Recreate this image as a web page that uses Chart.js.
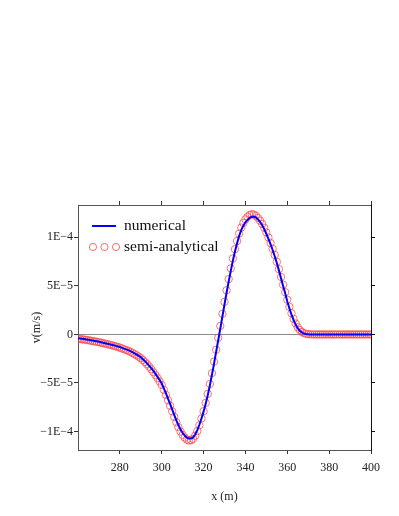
<!DOCTYPE html>
<html>
<head>
<meta charset="utf-8">
<script src="https://cdn.jsdelivr.net/npm/chart.js@4.4.1/dist/chart.umd.min.js"></script>
<style>
body{margin:0;background:#fff;}
</style>
</head>
<body>
<canvas id="chart_v" width="399" height="516"></canvas>
<script>
// x positions (m), one sample per metre
var x_values=[260,261,262,263,264,265,266,267,268,269,270,271,272,273,274,275,276,277,278,279,
 280,281,282,283,284,285,286,287,288,289,290,291,292,293,294,295,296,297,298,299,
 300,301,302,303,304,305,306,307,308,309,310,311,312,313,314,315,316,317,318,319,
 320,321,322,323,324,325,326,327,328,329,330,331,332,333,334,335,336,337,338,339,
 340,341,342,343,344,345,346,347,348,349,350,351,352,353,354,355,356,357,358,359,
 360,361,362,363,364,365,366,367,368,369,370,371,372,373,374,375,376,377,378,379,
 380,381,382,383,384,385,386,387,388,389,390,391,392,393,394,395,396,397,398,399,400];

// v in units of 1E-5 m/s
var numerical=[-0.40,-0.42,-0.45,-0.48,-0.51,-0.55,-0.59,-0.63,-0.67,-0.71,-0.75,
 -0.80,-0.85,-0.90,-0.95,-1.00,-1.06,-1.12,-1.18,-1.24,-1.30,
 -1.38,-1.46,-1.54,-1.62,-1.72,-1.83,-1.95,-2.08,-2.21,-2.35,
 -2.55,-2.75,-2.98,-3.22,-3.48,-3.76,-4.06,-4.38,-4.70,-5.05,
 -5.55,-6.05,-6.60,-7.15,-7.72,-8.30,-8.85,-9.35,-9.80,-10.15,
 -10.42,-10.62,-10.72,-10.72,-10.60,-10.30,-9.85,-9.30,-8.65,-7.95,
 -7.15,-6.25,-5.25,-4.15,-3.00,-1.80,-0.60,0.60,1.85,3.10,
 4.30,5.45,6.55,7.60,8.55,9.40,10.15,10.75,11.20,11.55,
 11.80,12.00,12.12,12.15,12.05,11.85,11.60,11.25,10.85,10.35,
 9.85,9.30,8.70,8.05,7.35,6.60,5.80,5.00,4.25,3.40,
 2.70,2.05,1.50,1.02,0.65,0.38,0.20,0.09,0.04,0.01,
 0,0,0,0,0,0,0,0,0,0,0,0,0,0,0,0,0,0,0,0,0,0,0,0,0,0,0,0,0,0];

var semi_analytical=[-0.45,-0.47,-0.50,-0.53,-0.56,-0.60,-0.64,-0.68,-0.72,-0.76,-0.80,
 -0.85,-0.90,-0.95,-1.00,-1.05,-1.11,-1.17,-1.23,-1.29,-1.36,
 -1.44,-1.52,-1.60,-1.69,-1.79,-1.90,-2.02,-2.15,-2.29,-2.44,
 -2.63,-2.84,-3.07,-3.31,-3.58,-3.87,-4.18,-4.50,-4.84,-5.20,
 -5.70,-6.22,-6.78,-7.35,-7.92,-8.50,-9.05,-9.55,-10.00,-10.35,
 -10.62,-10.82,-10.92,-10.90,-10.75,-10.42,-9.95,-9.35,-8.65,-7.90,
 -7.05,-6.12,-5.10,-3.98,-2.80,-1.58,-0.35,0.88,2.12,3.35,
 4.55,5.70,6.80,7.82,8.78,9.62,10.38,11.00,11.48,11.85,
 12.12,12.30,12.38,12.35,12.22,12.00,11.72,11.38,10.98,10.50,
 9.98,9.42,8.82,8.18,7.48,6.72,5.92,5.12,4.35,3.58,
 2.85,2.18,1.60,1.12,0.74,0.45,0.25,0.13,0.06,0.03,
 0.01,0,0,0,0,0,0,0,0,0,0,0,0,0,0,0,0,0,0,0,0,0,0,0,0,0,0,0,0,0];

var unit=1e-5;
var x_ticks=[280,300,320,340,360,380,400];
var y_ticks=[-1e-4,-5e-5,0,5e-5,1e-4];
var y_tick_labels=["\u22121E\u22124","\u22125E\u22125","0","5E\u22125","1E\u22124"];
var series_names=["numerical","semi-analytical"];

var serif='"Liberation Serif","Times New Roman",serif';

function points(vals)
{
 var out=[];
 for(var i=0;i<x_values.length;i++){
  out.push({x:x_values[i],y:vals[i]*unit});
 }
 return out;
}

// legend drawn inside the plot, top left
var inner_legend={
 id:'inner_legend',
 afterDatasetsDraw:function(chart){
  var c=chart.ctx, a=chart.chartArea;
  var lx=a.left+14, y1=a.top+21, y2=a.top+42;
  c.save();
  c.strokeStyle='#0000ff';
  c.lineWidth=2;
  c.beginPath();
  c.moveTo(lx,y1);
  c.lineTo(lx+24,y1);
  c.stroke();
  c.strokeStyle='rgba(255,70,70,0.8)';
  c.lineWidth=1;
  for(var k=0;k<3;k++){
   c.beginPath();
   c.arc(lx+1+k*11.5,y2,3.6,0,Math.PI*2);
   c.stroke();
  }
  c.fillStyle='#111';
  c.font='15.5px '+serif;
  c.textBaseline='middle';
  c.fillText(series_names[0],lx+32,y1);
  c.fillText(series_names[1],lx+32,y2);
  c.restore();
 }
};

function draw_chart()
{
 var chartid=document.getElementById("chart_v");
 var chart_obj=new Chart(chartid,{
  type:'line',
  data:{
   datasets:[{
     label:series_names[0],
     data:points(numerical),
     xAxisID:'x',
     yAxisID:'y',
     borderColor:'#0000ff',
     borderWidth:2,
     pointRadius:0,
     tension:0,
     fill:false
    },{
     label:series_names[1],
     data:points(semi_analytical),
     xAxisID:'x',
     yAxisID:'y',
     showLine:false,
     pointStyle:'circle',
     pointRadius:3.7,
     pointBorderWidth:1,
     pointBorderColor:'rgba(255,70,70,0.75)',
     pointBackgroundColor:'rgba(0,0,0,0)',
     clip:0
    }]
  },
  plugins:[inner_legend],
  options:{
   responsive:false,
   devicePixelRatio:1,
   animation:false,
   layout:{padding:0},
   plugins:{legend:{display:false},tooltip:{enabled:false}},
   scales:{
    x:{
     type:'linear',position:'bottom',min:260,max:400,
     afterBuildTicks:function(s){s.ticks=x_ticks.map(function(v){return {value:v};});},
     afterFit:function(s){s.height=66;},
     grid:{drawOnChartArea:false,tickLength:4,tickColor:'#333'},
     border:{color:'#555',width:1},
     ticks:{font:{family:serif,size:12},color:'#222',padding:7,maxRotation:0},
     title:{display:true,text:'x (m)',font:{family:serif,size:12},color:'#222',padding:{top:0,bottom:12}}
    },
    x2:{
     type:'linear',position:'top',min:260,max:400,
     afterBuildTicks:function(s){s.ticks=x_ticks.map(function(v){return {value:v};});},
     afterFit:function(s){s.height=205;},
     grid:{drawOnChartArea:false,tickLength:4,tickColor:'#333'},
     border:{color:'#555',width:1},
     ticks:{display:false}
    },
    y:{
     type:'linear',position:'left',min:-1.19e-4,max:1.333e-4,
     afterBuildTicks:function(s){s.ticks=y_ticks.map(function(v){return {value:v};});},
     afterFit:function(s){s.width=78;},
     grid:{
      drawOnChartArea:true,tickLength:4,tickColor:'#333',lineWidth:1,
      color:function(ctx){return (ctx.tick && ctx.tick.value===0)?'#8a8a8a':'rgba(0,0,0,0)';}
     },
     border:{color:'#555',width:1},
     ticks:{
      font:{family:serif,size:12},color:'#222',padding:1,
      callback:function(value){return y_tick_labels[y_ticks.indexOf(value)];}
     },
     title:{display:true,text:'v(m/s)',font:{family:serif,size:12},color:'#222',padding:{top:30,bottom:0}}
    },
    y2:{
     type:'linear',position:'right',min:-1.19e-4,max:1.333e-4,
     afterBuildTicks:function(s){s.ticks=y_ticks.map(function(v){return {value:v};});},
     afterFit:function(s){s.width=28;},
     grid:{drawOnChartArea:false,tickLength:4,tickColor:'#111'},
     border:{color:'#111',width:1},
     ticks:{display:false}
    }
   }
  }
 });
}

draw_chart();
</script>
</body>
</html>
